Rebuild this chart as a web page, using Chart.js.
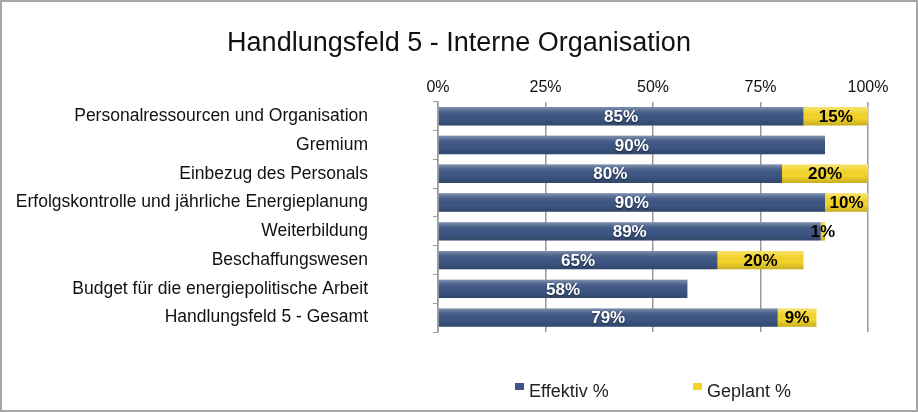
<!DOCTYPE html>
<html>
<head>
<meta charset="utf-8">
<script src="https://cdn.jsdelivr.net/npm/chart.js@4/dist/chart.umd.min.js"></script>
<style>
  body { margin: 0; background: #fff; }
</style>
</head>
<body>
<canvas id="chart" width="918" height="412"></canvas>
<script>
const categories = [
  'Personalressourcen und Organisation',
  'Gremium',
  'Einbezug des Personals',
  'Erfolgskontrolle und jährliche Energieplanung',
  'Weiterbildung',
  'Beschaffungswesen',
  'Budget für die energiepolitische Arbeit',
  'Handlungsfeld 5 - Gesamt'
];
const effektiv = [85, 90, 80, 90, 89, 65, 58, 79];
const geplant = [15, null, 20, 10, 1, 20, null, 9];
const tickLabels = ['0%', '25%', '50%', '75%', '100%'];

const FONT = '"Liberation Sans", Arial, sans-serif';

// grey frame round the whole picture, title centred on the full width
const framePlugin = {
  id: 'frame',
  afterLayout(chart) {
    const t = chart.titleBlock;
    if (t) {
      t.left = 0;
      t.right = chart.width;
      t.width = chart.width;
    }
  },
  beforeDraw(chart) {
    const ctx = chart.ctx;
    ctx.save();
    ctx.fillStyle = '#fff';
    ctx.fillRect(0, 0, chart.width, chart.height);
    ctx.strokeStyle = '#a6a6a6';
    ctx.lineWidth = 2;
    ctx.strokeRect(1, 1, chart.width - 2, chart.height - 2);
    ctx.restore();
  }
};

// light shine on top of each bar, plus the value labels
const barLabels = {
  id: 'barLabels',
  afterDatasetsDraw(chart) {
    const ctx = chart.ctx;
    ctx.save();
    chart.data.datasets.forEach((ds, i) => {
      const meta = chart.getDatasetMeta(i);
      meta.data.forEach((bar, j) => {
        const v = ds.data[j];
        if (!v) return;
        const { x, y, base, height } = bar.getProps(['x', 'y', 'base', 'height'], true);
        const top = y - height / 2;
        const g = ctx.createLinearGradient(0, top, 0, top + height);
        g.addColorStop(0, 'rgba(255,255,255,0.35)');
        g.addColorStop(0.25, 'rgba(255,255,255,0.08)');
        g.addColorStop(0.6, 'rgba(0,0,0,0)');
        g.addColorStop(1, 'rgba(0,0,0,0.18)');
        ctx.fillStyle = g;
        ctx.fillRect(base, top, x - base, height);

        ctx.font = 'bold 17px ' + FONT;
        ctx.textAlign = 'center';
        ctx.textBaseline = 'middle';
        if (i === 0) {
          ctx.shadowColor = 'rgba(0,0,0,0.55)';
          ctx.shadowBlur = 2;
          ctx.shadowOffsetY = 1;
          ctx.fillStyle = '#fff';
        } else {
          ctx.shadowColor = 'transparent';
          ctx.fillStyle = '#000';
        }
        ctx.fillText(v + '%', (x + base) / 2, y + 1);
        ctx.shadowColor = 'transparent';
      });
    });
    ctx.restore();
  }
};

// legend below the plot, centred on the plot area
const bottomLegend = {
  id: 'bottomLegend',
  afterDraw(chart) {
    const ctx = chart.ctx;
    const area = chart.chartArea;
    const cx = (area.left + area.right) / 2;
    const offsets = [-138, 40];
    ctx.save();
    ctx.font = '18px ' + FONT;
    ctx.textBaseline = 'middle';
    ctx.textAlign = 'left';
    chart.data.datasets.forEach((ds, i) => {
      const mx = cx + offsets[i];
      const my = 392;
      ctx.fillStyle = ds.backgroundColor;
      ctx.fillRect(mx, my - 9, 9, 7);
      ctx.fillStyle = '#222';
      ctx.fillText(ds.label, mx + 14, my);
    });
    ctx.restore();
  }
};

new Chart(document.getElementById('chart'), {
  type: 'bar',
  data: {
    labels: categories,
    datasets: [
      {
        label: 'Effektiv %',
        data: effektiv,
        backgroundColor: '#3d5683',
        barPercentage: 0.8,
        categoryPercentage: 0.8
      },
      {
        label: 'Geplant %',
        data: geplant,
        backgroundColor: '#f3d42a',
        barPercentage: 0.8,
        categoryPercentage: 0.8
      }
    ]
  },
  options: {
    indexAxis: 'y',
    responsive: false,
    animation: false,
    layout: {
      padding: { left: 0, right: 50, top: 0, bottom: 80 }
    },
    scales: {
      x: {
        position: 'top',
        stacked: true,
        min: 0,
        max: 100,
        afterFit(scale) { scale.height = 33.5; },
        ticks: {
          stepSize: 25,
          padding: 4.5,
          color: '#111',
          font: { family: FONT, size: 16 },
          callback: (v) => tickLabels[v / 25]
        },
        grid: {
          color: '#9a9a9a',
          lineWidth: 1.5,
          drawTicks: false
        },
        border: { display: false }
      },
      y: {
        stacked: true,
        afterFit(scale) { scale.width = 438; },
        ticks: {
          padding: 65,
          color: '#111',
          font: { family: FONT, size: 17.5 }
        },
        grid: {
          drawOnChartArea: false,
          tickLength: 5,
          color: '#9a9a9a'
        },
        border: { display: true, color: '#9a9a9a', width: 1.5 }
      }
    },
    plugins: {
      title: {
        display: true,
        text: 'Handlungsfeld 5 - Interne Organisation',
        color: '#111',
        font: { family: FONT, size: 27, weight: 'normal' },
        padding: { top: 27, bottom: 9 }
      },
      legend: { display: false },
      tooltip: { enabled: false }
    }
  },
  plugins: [framePlugin, barLabels, bottomLegend]
});
</script>
</body>
</html>
